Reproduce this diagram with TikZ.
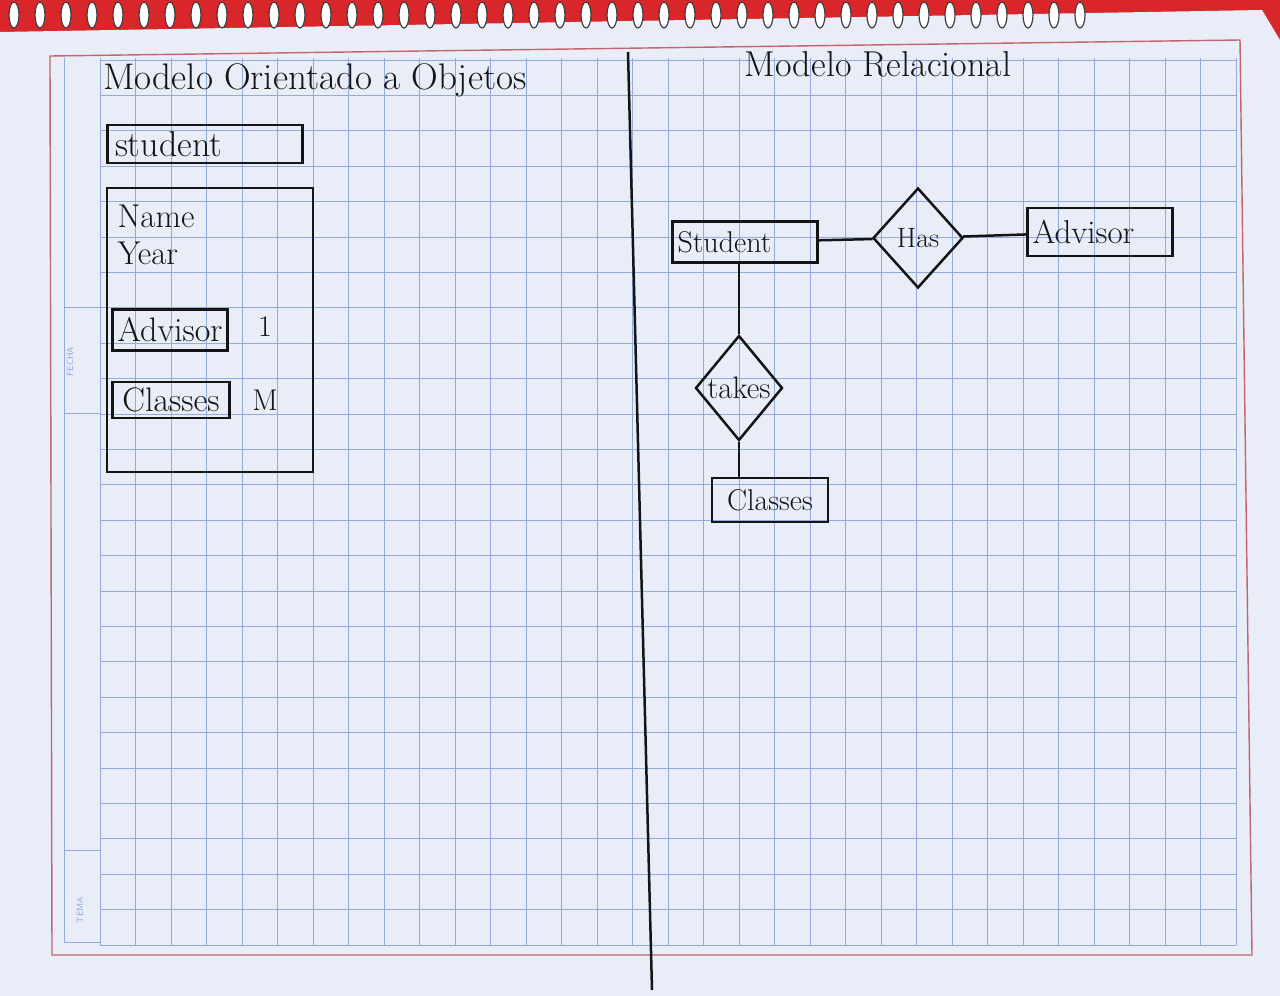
\documentclass[tikz,border=0pt]{standalone}
\usepackage{fontspec}
\usepackage{tikz}
\usetikzlibrary{positioning}
\usetikzlibrary{shapes,shapes.geometric}

\definecolor{paper}{HTML}{E9EDF7}
\definecolor{gridblue}{HTML}{93AADB}
\definecolor{marginred}{HTML}{C2636F}
\definecolor{coverred}{HTML}{D8262A}
\definecolor{ink}{HTML}{141414}

\begin{document}
\begin{tikzpicture}[x=1pt, y=-1pt,
    ink/.style={draw=ink, line width=2.5pt},
    entity/.style={ink, rectangle, inner sep=2pt, align=left, text=ink, font=\fontsize{30}{34}\selectfont},
    relation/.style={ink, diamond, inner sep=0pt, text=ink, font=\fontsize{30}{34}\selectfont},
    linkline/.style={draw=ink, line width=2.5pt},
    gridline/.style={draw=gridblue, line width=0.8pt},
    coil/.style={draw=black!75, fill=white, line width=1.2pt},
    handtext/.style={text=ink, font=\fontsize{36}{40}\selectfont}]

    \useasboundingbox (0,0) rectangle (1280,996);

    % cuaderno
    \fill[coverred] (0,0) rectangle (1280,996);
    \fill[paper] (0,32) -- (1262,10) -- (1280,40) -- (1280,996) -- (0,996) -- cycle;
    \foreach \sx in {14,40,...,1080} {
        \draw[coil] (\sx,15) ellipse (5 and 13);
    }

    % cuadricula
    \foreach \gx in {0,...,32} {
        \draw[gridline] (100+35.5*\gx,58) -- (100+35.5*\gx,945);
    }
    \foreach \gy in {0,...,25} {
        \draw[gridline] (100,60+35.4*\gy) -- (1236,60+35.4*\gy);
    }
    \draw[gridline] (64,58) -- (64,942) -- (100,942);
    \draw[gridline] (64,307) -- (100,307);
    \draw[gridline] (64,413) -- (100,413);
    \draw[gridline] (64,850) -- (100,850);
    \node[rotate=90, text=gridblue, font=\sffamily\small] (fecha) at (70,362) {FECHA};
    \node[rotate=90, text=gridblue, font=\sffamily\small] (tema) at (80,910) {TEMA};

    % margen rojo
    \draw[marginred, line width=1.4pt] (50,56) -- (1240,40) -- (1252,955) -- (52,955) -- cycle;

    % division
    \draw[ink] (628,52) -- (652,990);

    % titulos
    \node[handtext, font=\fontsize{37}{40}\selectfont] (ootitle) at (315,80) {Modelo Orientado a Objetos};
    \node[handtext] (reltitle) at (878,64) {Modelo Relacional};

    % modelo orientado a objetos
    \node[entity, minimum width=195pt, minimum height=38pt, text width=180pt, font=\fontsize{36}{38}\selectfont] (oostudent) at (205,144) {student};
    \node[ink, rectangle, minimum width=206pt, minimum height=284pt] (oobox) at (210,330) {};
    \node[handtext, align=left, anchor=north west, font=\fontsize{33}{37}\selectfont] (ooattr) at (114,201) {Name\\Year};
    \node[entity, align=center, minimum width=115pt, minimum height=41pt, font=\fontsize{34}{36}\selectfont] (ooadvisor) at (170,330) {Advisor};
    \node[handtext, font=\fontsize{30}{34}\selectfont] (oneadv) at (265,327) {1};
    \node[entity, align=center, minimum width=117pt, minimum height=36pt, font=\fontsize{34}{36}\selectfont] (ooclasses) at (171,400) {Classes};
    \node[handtext, font=\fontsize{30}{34}\selectfont] (manycls) at (265,400) {M};

    % modelo relacional
    \node[entity, minimum width=145pt, minimum height=41pt, text width=135pt, font=\fontsize{30}{32}\selectfont] (stu) at (745,242) {Student};
    \node[relation, minimum width=90pt, minimum height=100pt, font=\fontsize{28}{30}\selectfont] (has) at (918,238) {\makebox[0pt]{Has}};
    \node[entity, minimum width=145pt, minimum height=48pt, text width=135pt, font=\fontsize{33}{36}\selectfont] (adv) at (1100,232) {Advisor};
    \node[relation, minimum width=87pt, minimum height=105pt, font=\fontsize{31}{34}\selectfont] (takes) at (739,388) {\makebox[0pt]{takes}};
    \node[entity, align=center, minimum width=116pt, minimum height=44pt] (cls) at (770,500) {Classes};

    \draw[linkline] (stu) -- (has);
    \draw[linkline] (has) -- (adv);
    \draw[linkline] (takes.north |- stu.south) -- (takes.north);
    \draw[linkline] (takes.south) -- (takes.south |- cls.north);
\end{tikzpicture}
\end{document}
